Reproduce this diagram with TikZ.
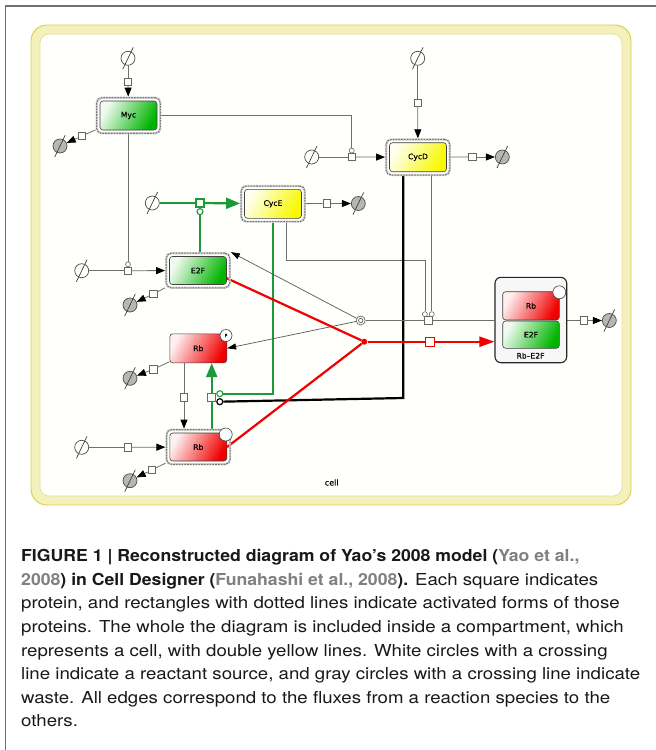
\documentclass[tikz,border=0pt]{standalone}
\usepackage{fontspec}
\setmainfont{TeX Gyre Heros}
\newfontfamily\capfont[FakeStretch=1.13,BoldFeatures={FakeStretch=1.07}]{TeX Gyre Heros}
\newfontfamily\cdfont[FakeBold=0.4]{DejaVu Sans}
\usetikzlibrary{arrows.meta,calc,fit}
\definecolor{frameg}{HTML}{707070}
\definecolor{cellband}{HTML}{F4F1BC}
\definecolor{celledge}{HTML}{D6CF48}
\definecolor{cellinner}{HTML}{E4DE8A}
\definecolor{linegray}{HTML}{6E6E6E}
\definecolor{cdgreen}{HTML}{00B400}
\definecolor{lgreen}{HTML}{1C9A3A}
\definecolor{cdred}{HTML}{F00000}
\definecolor{cdyellow}{HTML}{F8F800}
\definecolor{citegray}{HTML}{808080}
\definecolor{sinkgray}{HTML}{B6B6B6}
\pgfdeclarelayer{bg}
\pgfsetlayers{bg,main}
\newcommand\mkphi[3]{%
  \node[phin,fill=#3] (#1) at (#2) {};
  \draw[phislash] ($(#1)+(-5.3,11)$) -- ($(#1)+(5.3,-11)$);}
\begin{document}
\begin{tikzpicture}[x=1pt,y=-1pt,
  species/.style={rectangle, rounded corners=3pt, minimum width=57pt, minimum height=29pt,
    inner sep=0pt, draw=black!75, line width=0.6pt, font=\cdfont\fontsize{7.6}{9}\selectfont},
  gsp/.style={species, top color=cdgreen!6, bottom color=cdgreen, shading angle=62},
  rsp/.style={species, top color=cdred!6, bottom color=cdred, shading angle=62},
  ysp/.style={species, top color=cdyellow!6, bottom color=cdyellow, shading angle=62},
  actf/.style={rectangle, rounded corners=5pt, draw=black!18, line width=2.2pt, inner sep=3pt,
    postaction={draw=black!55, line width=1pt, dash pattern=on 1.6pt off 1.2pt}},
  phin/.style={circle, draw=black!70, line width=0.7pt, minimum size=14pt, inner sep=0pt},
  phislash/.style={draw=black!75, line width=0.7pt},
  rsq/.style={rectangle, draw=black!60, fill=white, line width=0.6pt, minimum size=7.5pt, inner sep=0pt},
  gsq/.style={rsq, draw=lgreen, line width=1.2pt, minimum size=8pt},
  redsq/.style={rsq, draw=cdred, line width=1.2pt, minimum size=9pt},
  modc/.style={circle, draw=black!60, fill=white, line width=0.6pt, minimum size=5pt, inner sep=0pt},
  gmodc/.style={modc, draw=lgreen, line width=1.1pt, minimum size=6pt},
  bmodc/.style={modc, draw=black, line width=1.2pt, minimum size=6pt},
  gl/.style={draw=linegray, line width=0.8pt},
  gla/.style={gl, -{Triangle[length=9pt,width=7pt,color=black]}},
  thina/.style={draw=black!65, line width=0.7pt, -{Triangle[length=9pt,width=6pt,color=black]}},
  grn/.style={draw=lgreen, line width=2.2pt},
  grna/.style={grn, -{Triangle[length=14pt,width=11pt]}},
  redl/.style={draw=cdred, line width=2.2pt},
  reda/.style={redl, -{Triangle[length=15pt,width=10pt]}},
  blk/.style={draw=black, line width=2.2pt},
  capline/.style={anchor=base west, inner sep=0pt, text=black!90, font=\capfont\fontsize{16.5}{20}\selectfont},
  cdlabel/.style={inner sep=0pt, font=\cdfont\fontsize{7.6}{9}\selectfont},
  statec/.style={circle, draw=black!75, fill=white, line width=0.6pt, minimum size=12pt, inner sep=0pt,
    font=\cdfont\fontsize{4.5}{5}\selectfont}
]
\useasboundingbox (0,0) rectangle (656,750);
\begin{pgfonlayer}{bg}
\fill[white] (0,0) rectangle (656,750);
\draw[frameg, line width=1.3pt] (5.5,750) -- (5.5,6) -- (656,6);
% compartment
\draw[celledge, fill=cellband, line width=0.9pt, rounded corners=16pt] (31,25) rectangle (631,505);
\draw[cellinner, fill=white!99!yellow, line width=0.6pt, rounded corners=9pt] (40,34) rectangle (622,496);
\end{pgfonlayer}
\node[font=\cdfont\fontsize{8}{9}\selectfont, inner sep=0pt] (celllbl) at (331.7,482.5) {cell};

% species
\node[gsp] (Myc) at (128.5,115.5) {Myc};
\node[actf, fit=(Myc)] (MycF) {};
\node[ysp] (CycD) at (418,157.2) {CycD};
\node[actf, fit=(CycD)] (CycDF) {};
\node[ysp] (CycE) at (273,203.8) {CycE};
\node[actf, fit=(CycE)] (CycEF) {};
\node[gsp, minimum height=28pt] (E2F) at (198,270.5) {E2F};
\node[actf, fit=(E2F)] (E2FF) {};
\node[rsp] (RbP) at (198.3,348.3) {Rb};
\node[rsp, minimum height=28pt] (Rb) at (198.3,447) {Rb};
\node[actf, fit=(Rb)] (RbF) {};
\node[statec] (Pc) at (226,335.5) {P};
\node[statec, minimum size=13pt] (Rc) at (225.7,434.5) {};

% complex
\node[rectangle, rounded corners=6pt, draw=black!85, fill=black!3, line width=1.1pt,
  minimum width=71.7pt, minimum height=85.4pt, inner sep=0pt] (Cx) at (530.85,320) {};
\node[rsp, minimum width=56.6pt, minimum height=28.3pt] (CxRb) at (531,305.85) {Rb};
\node[gsp, minimum width=56.6pt, minimum height=27.3pt] (CxE2F) at (531,334.65) {E2F};
\node[statec, minimum size=13pt] (CxC) at (559.3,292.3) {};
\node[cdlabel] (CxLbl) at (530.5,355.7) {Rb–E2F};

% sources and sinks
\mkphi{sMyc}{128,58.3}{white}
\mkphi{sCycDt}{417.7,58.3}{white}
\mkphi{sCycDl}{311.7,157}{white}
\mkphi{sCycE}{152.3,203}{white}
\mkphi{sE2F}{81.7,270.7}{white}
\mkphi{sRb}{81.7,447.3}{white}
\mkphi{kMyc}{60,146}{sinkgray}
\mkphi{kCycD}{502.3,157}{sinkgray}
\mkphi{kCycE}{358.3,203.5}{sinkgray}
\mkphi{kE2F}{130,305}{sinkgray}
\mkphi{kRbP}{130,378.3}{sinkgray}
\mkphi{kRb}{130,480.7}{sinkgray}
\mkphi{kCx}{609.3,320.5}{sinkgray}

% reaction squares
\node[rsq] (qMyc) at (128,81.7) {};
\node[rsq] (qCycDt) at (417.7,102.7) {};
\node[rsq] (qCycDl) at (351.7,157) {};
\node[modc] (mMyc) at (351.7,150.6) {};
\node[gsq] (qCycE) at (200,203) {};
\node[gmodc] (mE2F) at (200,211.6) {};
\node[rsq] (qE2F) at (128,270.7) {};
\node[modc] (mMyc2) at (128,264.3) {};
\node[rsq] (qRb) at (128,447.3) {};
\node[rsq] (qMycD) at (81.7,136) {};
\node[rsq] (qCycDD) at (472.3,157) {};
\node[rsq] (qCycED) at (326.7,203.5) {};
\node[rsq] (qE2FD) at (153.3,294) {};
\node[rsq] (qRbPD) at (153.3,369.3) {};
\node[rsq] (qRbD) at (151.7,470) {};
\node[rsq] (qCxD) at (584,320.5) {};
\node[rsq] (qDis) at (428.3,320.5) {};
\node[modc] (mD1) at (424.9,314.2) {};
\node[modc] (mD2) at (431.8,314.2) {};
\node[circle, draw=black!60, fill=white, line width=0.7pt, minimum size=9pt, inner sep=0pt] (dis) at (360.7,320.5) {};
\draw[black!60, line width=0.7pt] (dis.center) circle[radius=2.2pt];
\node[circle, fill=cdred, minimum size=6pt, inner sep=0pt] (rdot) at (364.3,341.7) {};
\node[redsq] (qRed) at (430,341.7) {};
\node[gsq] (qP) at (211.7,397.7) {};
\node[gmodc] (gmR) at (219.8,393.7) {};
\node[bmodc] (bmR) at (219.8,401.7) {};
\node[rsq] (qR) at (184,397.3) {};
\coordinate (bG) at (272.7,393.7);
\coordinate (bC) at (286.7,260);
\coordinate (bB) at (403.3,398);

\begin{pgfonlayer}{bg}
% productions
\draw[gl] (sMyc) -- (qMyc); \draw[gla] (qMyc) -- (MycF);
\draw[gl] (sCycDt) -- (qCycDt); \draw[gla] (qCycDt) -- (CycDF);
\draw[gl] (sCycDl) -- (qCycDl); \draw[gla] (qCycDl) -- (CycDF);
\draw[gl] (sE2F) -- (qE2F); \draw[gla] (qE2F) -- (E2FF);
\draw[gl] (sRb) -- (qRb); \draw[gla] (qRb) -- (RbF);
\draw[grn] (sCycE) -- (qCycE); \draw[grna] (qCycE) -- (CycEF);
% degradations
\draw[gl] (MycF) -- (qMycD); \draw[gla] (qMycD) -- (kMyc);
\draw[gl] (CycDF) -- (qCycDD); \draw[gla] (qCycDD) -- (kCycD);
\draw[gl] (CycEF) -- (qCycED); \draw[gla] (qCycED) -- (kCycE);
\draw[gl] (E2FF) -- (qE2FD); \draw[gla] (qE2FD) -- (kE2F);
\draw[gl] (RbP) -- (qRbPD); \draw[gla] (qRbPD) -- (kRbP);
\draw[gl] (RbF) -- (qRbD); \draw[gla] (qRbD) -- (kRb);
\draw[gl] (Cx.east |- qCxD) -- (qCxD); \draw[gla] (qCxD) -- (kCx);
% modifiers
\draw[gl] (MycF) -| (mMyc);
\draw[gl] (MycF.south -| mMyc2) -- (mMyc2);
\draw[grn] (E2FF.north -| mE2F) -- (mE2F);
\draw[grn] (CycEF.south -| bG) -- (bG) -- (gmR);
\draw[gl] (CycEF.south -| bC) -- (bC) -| (mD1);
\draw[gl] (CycDF.south -| mD2) -- (mD2);
\draw[blk] (CycDF.south -| bB) -- (bB) -- (bmR);
% Rb phosphorylation / dephosphorylation
\draw[grn] (RbF.north -| qP) -- (qP); \draw[grna] (qP) -- (RbP.south -| qP);
\draw[gl] (RbP.south -| qR) -- (qR); \draw[gla] (qR) -- (RbF.north -| qR);
% complex dissociation
\draw[gl] (Cx.west |- qDis) -- (qDis) -- (dis);
\draw[thina] (dis) -- (E2FF.north east);
\draw[thina] (dis) -- (RbP.east);
% complex formation
\draw[redl] (E2F.-15) -- (rdot);
\draw[redl] (Rb.east) -- (rdot);
\draw[redl] (rdot) -- (qRed);
\draw[reda] (qRed) -- (Cx.west |- qRed);
\end{pgfonlayer}

% caption
\node[capline] (cap1) at (21,561.7) {\bfseries FIGURE 1 | Reconstructed diagram of Yao’s 2008 model (\textcolor{citegray}{Yao et al.,}};
\node[capline] (cap2) at (21,585.3) {{\bfseries\textcolor{citegray}{2008}) in Cell Designer (\textcolor{citegray}{Funahashi et al., 2008}).} Each square indicates};
\node[capline] (cap3) at (21,608.9) {protein, and rectangles with dotted lines indicate activated forms of those};
\node[capline] (cap4) at (21,632.5) {proteins. The whole the diagram is included inside a compartment, which};
\node[capline] (cap5) at (21,656.1) {represents a cell, with double yellow lines. White circles with a crossing};
\node[capline] (cap6) at (21,679.7) {line indicate a reactant source, and gray circles with a crossing line indicate};
\node[capline] (cap7) at (21,703.3) {waste. All edges correspond to the fluxes from a reaction species to the};
\node[capline] (cap8) at (21,726.9) {others.};
\end{tikzpicture}
\end{document}
